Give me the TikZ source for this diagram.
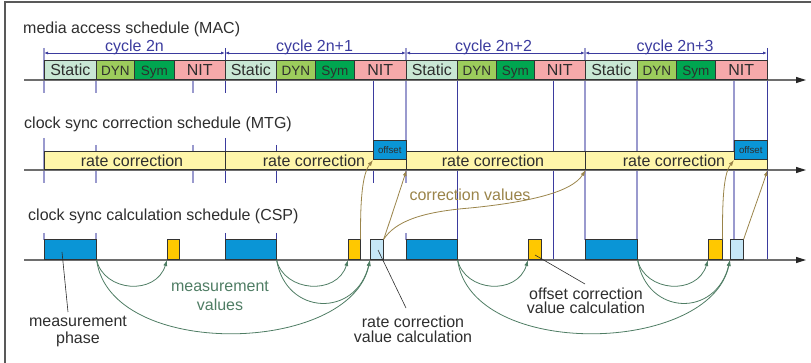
\documentclass[tikz,border=0pt]{standalone}
\usepackage{fontspec}
\setmainfont{Liberation Sans}
\usetikzlibrary{arrows.meta,calc}
\definecolor{cStatic}{HTML}{C9E7D4}
\definecolor{cDyn}{HTML}{9CCC5C}
\definecolor{cSym}{HTML}{00A650}
\definecolor{cNit}{HTML}{F6A9AA}
\definecolor{cRate}{HTML}{FFF6AA}
\definecolor{cBlue}{HTML}{0A95D6}
\definecolor{cYel}{HTML}{FFC800}
\definecolor{cLb}{HTML}{C6E7F7}
\definecolor{cDim}{HTML}{3B3B9E}
\definecolor{cLight}{HTML}{9A9ACE}
\definecolor{cOlive}{HTML}{9A844A}
\definecolor{cGreen}{HTML}{4F7D64}
\definecolor{cText}{HTML}{2E2E2E}
\definecolor{cAxis}{HTML}{6E6E6E}
\begin{document}
\begin{tikzpicture}[x=1pt,y=-1pt,
  box/.style={draw=black!80, line width=0.6pt, inner sep=0pt, anchor=south west, text=cText},
  seg/.style={box, minimum height=19pt, text height=11.5pt, text depth=0pt},
  bigf/.style={font=\fontsize{16}{16}\selectfont},
  smallf/.style={font=\fontsize{13.5}{14}\selectfont},
  lbl/.style={inner sep=0pt, text=cText, font=\fontsize{16}{16}\selectfont},
  dimlbl/.style={inner sep=0pt, text=cDim, font=\fontsize{16}{16}\selectfont, anchor=base},
  vl/.style={cLight, line width=1.1pt},
  vd/.style={cDim, line width=0.9pt},
  axisline/.style={cAxis, line width=1.2pt, -{Triangle[length=10pt,width=6pt,fill=black!85,color=black!85]}},
  dimline/.style={cDim, line width=0.8pt, {Latex[length=4pt,width=3pt]}-{Latex[length=4pt,width=3pt]}},
  corr/.style={cOlive, line width=0.8pt, -{Latex[length=6pt,width=4pt]}},
  meas/.style={cGreen, line width=0.8pt, -{Latex[length=6pt,width=4pt]}},
  pointer/.style={cText, line width=0.6pt},
  frameline/.style={black!65, line width=1.3pt}
]
\useasboundingbox (0,0) rectangle (811,363);
\draw[frameline] (5,363) -- (5,2) -- (811,2);

% time grid lines
\draw[vl] (44,48) -- (44,93) (44,138) -- (44,183) (44,233) -- (44,240);
\draw[vl] (96,80) -- (96,93) (96,145) -- (96,183) (96,233) -- (96,240);
\draw[vl] (193,80) -- (193,93) (193,145) -- (193,183);
\draw[vd] (225,48) -- (225,93) (225,138) -- (225,183) (225,233) -- (225,240);
\draw[vd] (276,80) -- (276,93) (276,145) -- (276,183) (276,233) -- (276,240);
\draw[vd] (373,80) -- (373,183);
\draw[vl] (406,48) -- (406,183) (406,233) -- (406,240);
\draw[vd] (457,80) -- (457,240);
\draw[vd] (553,80) -- (553,260);
\draw[vl] (585,48) -- (585,240);
\draw[vl] (637,80) -- (637,240);
\draw[vl] (734,80) -- (734,240);
\draw[vd] (767,48) -- (767,260);

% axes
\coordinate (a1s) at (24,80);  \coordinate (a1e) at (806,80);
\coordinate (a2s) at (24,170); \coordinate (a2e) at (806,170);
\coordinate (a3s) at (24,260); \coordinate (a3e) at (806,260);
\draw[axisline] (a1s) -- (a1e);
\draw[axisline] (a2s) -- (a2e);
\draw[axisline] (a3s) -- (a3e);

% titles
\node[lbl, anchor=base west] (t1) at (23,34) {media access schedule (MAC)};
\node[lbl, anchor=base west] (t2) at (24,129) {clock sync correction schedule (MTG)};
\node[lbl, anchor=base west] (t3) at (28,221) {clock sync calculation schedule (CSP)};

% cycle dimensions
\coordinate (d0) at (44,53); \coordinate (d1) at (225,53); \coordinate (d2) at (406,53);
\coordinate (d3) at (585,53); \coordinate (d4) at (767,53);
\draw[dimline] (d0) -- (d1);
\draw[dimline] (d1) -- (d2);
\draw[dimline] (d2) -- (d3);
\draw[dimline] (d3) -- (d4);
\node[dimlbl] (c1) at (134.5,52) {cycle 2n};
\node[dimlbl] (c2) at (314.5,52) {cycle 2n+1};
\node[dimlbl] (c3) at (493.5,52) {cycle 2n+2};
\node[dimlbl] (c4) at (675,52) {cycle 2n+3};

% MAC segments
\foreach \i/\a/\b/\c/\d/\e in {1/44/96/134/174/225, 2/225/276/315/354/406, 3/406/457/496/534/585, 4/585/637/676/715/767} {
  \node[seg, bigf, fill=cStatic, minimum width={(\b-\a)*1pt}] (st\i) at (\a,80) {Static};
  \node[seg, smallf, fill=cDyn, minimum width={(\c-\b)*1pt}] (dy\i) at (\b,80) {DYN};
  \node[seg, smallf, fill=cSym, minimum width={(\d-\c)*1pt}] (sy\i) at (\c,80) {Sym};
  \node[seg, bigf, fill=cNit, minimum width={(\e-\d)*1pt}] (ni\i) at (\d,80) {NIT};
}

% MTG rate correction bars
\node[box, fill=cRate, minimum width=181pt, minimum height=18pt] (rc1) at (44,170) {};
\node[box, fill=cRate, minimum width=181pt, minimum height=18pt] (rc2) at (225,170) {};
\node[box, fill=cRate, minimum width=179pt, minimum height=18pt] (rc3) at (406,170) {};
\node[box, fill=cRate, minimum width=182pt, minimum height=18pt] (rc4) at (585,170) {};
\node[lbl, anchor=base] (rt1) at (132,166.5) {rate correction};
\node[lbl, anchor=base] (rt2) at (314,166.5) {rate correction};
\node[lbl, anchor=base] (rt3) at (493,166.5) {rate correction};
\node[lbl, anchor=base] (rt4) at (674,166.5) {rate correction};
\node[box, fill=cBlue, minimum width=33pt, minimum height=19pt, font=\fontsize{9.7}{10}\selectfont] (off1) at (373,160) {offset};
\node[box, fill=cBlue, minimum width=33pt, minimum height=19pt, font=\fontsize{9.7}{10}\selectfont] (off2) at (734,160) {offset};

% CSP boxes
\node[box, fill=cBlue, minimum width=52pt, minimum height=20pt] (mp1) at (44,260) {};
\node[box, fill=cBlue, minimum width=51pt, minimum height=20pt] (mp2) at (225,260) {};
\node[box, fill=cBlue, minimum width=51pt, minimum height=20pt] (mp3) at (406,260) {};
\node[box, fill=cBlue, minimum width=52pt, minimum height=20pt] (mp4) at (585,260) {};
\node[box, fill=cYel, minimum width=12pt, minimum height=20pt] (yb1) at (167,260) {};
\node[box, fill=cYel, minimum width=12pt, minimum height=20pt] (yb2) at (348,260) {};
\node[box, fill=cYel, minimum width=13pt, minimum height=20pt] (yb3) at (528,260) {};
\node[box, fill=cYel, minimum width=14pt, minimum height=20pt] (yb4) at (708,260) {};
\node[box, fill=cLb, minimum width=13pt, minimum height=20pt] (lb1) at (370,260) {};
\node[box, fill=cLb, minimum width=13pt, minimum height=20pt] (lb2) at (730,260) {};

% correction value arrows
\draw[corr] (yb2.north east) .. controls (360,190) and (364,172) .. (off1.south west);
\draw[corr] (lb1.north east) .. controls (392,215) and (400,190) .. (rc2.south east);
\draw[corr] (lb1.north east) .. controls (395,222) and (420,212) .. (470,208)
            .. controls (530,202) and (572,192) .. (rc3.south east);
\draw[corr] (yb4.north east) .. controls (722,190) and (725,172) .. (off2.south west);
\draw[corr] (lb2.north east) .. controls (752,215) and (761,190) .. (rc4.south east);
\node[lbl, anchor=base, text=cOlive] (cv) at (470,201) {correction values};

% measurement value arrows
\draw[meas] (mp1.south east) .. controls (104,292) and (156,296) .. (yb1.south west);
\draw[meas] (mp1.south east) .. controls (110,360) and (350,355) .. (lb1.south west);
\draw[meas] (mp2.south east) .. controls (284,292) and (337,296) .. (yb2.south west);
\draw[meas] (mp2.south east) .. controls (286,316) and (356,318) .. (lb1.south west);
\draw[meas] (mp3.south east) .. controls (465,292) and (517,296) .. (yb3.south west);
\draw[meas] (mp3.south east) .. controls (471,360) and (710,355) .. (lb2.south west);
\draw[meas] (mp4.south east) .. controls (645,292) and (697,296) .. (yb4.south west);
\draw[meas] (mp4.south east) .. controls (647,316) and (716,318) .. (lb2.south west);
\node[lbl, anchor=base, text=cGreen, align=center, font=\fontsize{16}{20}\selectfont] (mv) at (220,311) {measurement\\values};

% labels with pointers (base anchor = last line baseline)
\node[lbl, anchor=base, align=center, font=\fontsize{16}{16.5}\selectfont] (mph) at (78,343) {measurement\\phase};
\node[lbl, anchor=base, align=center, font=\fontsize{16}{15}\selectfont] (rcv) at (413,342) {rate correction\\value calculation};
\node[lbl, anchor=base, align=center, font=\fontsize{16}{14.5}\selectfont] (ocv) at (586,313.5) {offset correction\\value calculation};
\coordinate (p1s) at (62,252); \coordinate (p1e) at (68,312);
\coordinate (p2s) at (378,250); \coordinate (p2e) at (406,308);
\coordinate (p3s) at (535,255); \coordinate (p3e) at (585,284);
\draw[pointer] (p1s) -- (p1e);
\draw[pointer] (p2s) -- (p2e);
\draw[pointer] (p3s) -- (p3e);
\end{tikzpicture}
\end{document}
